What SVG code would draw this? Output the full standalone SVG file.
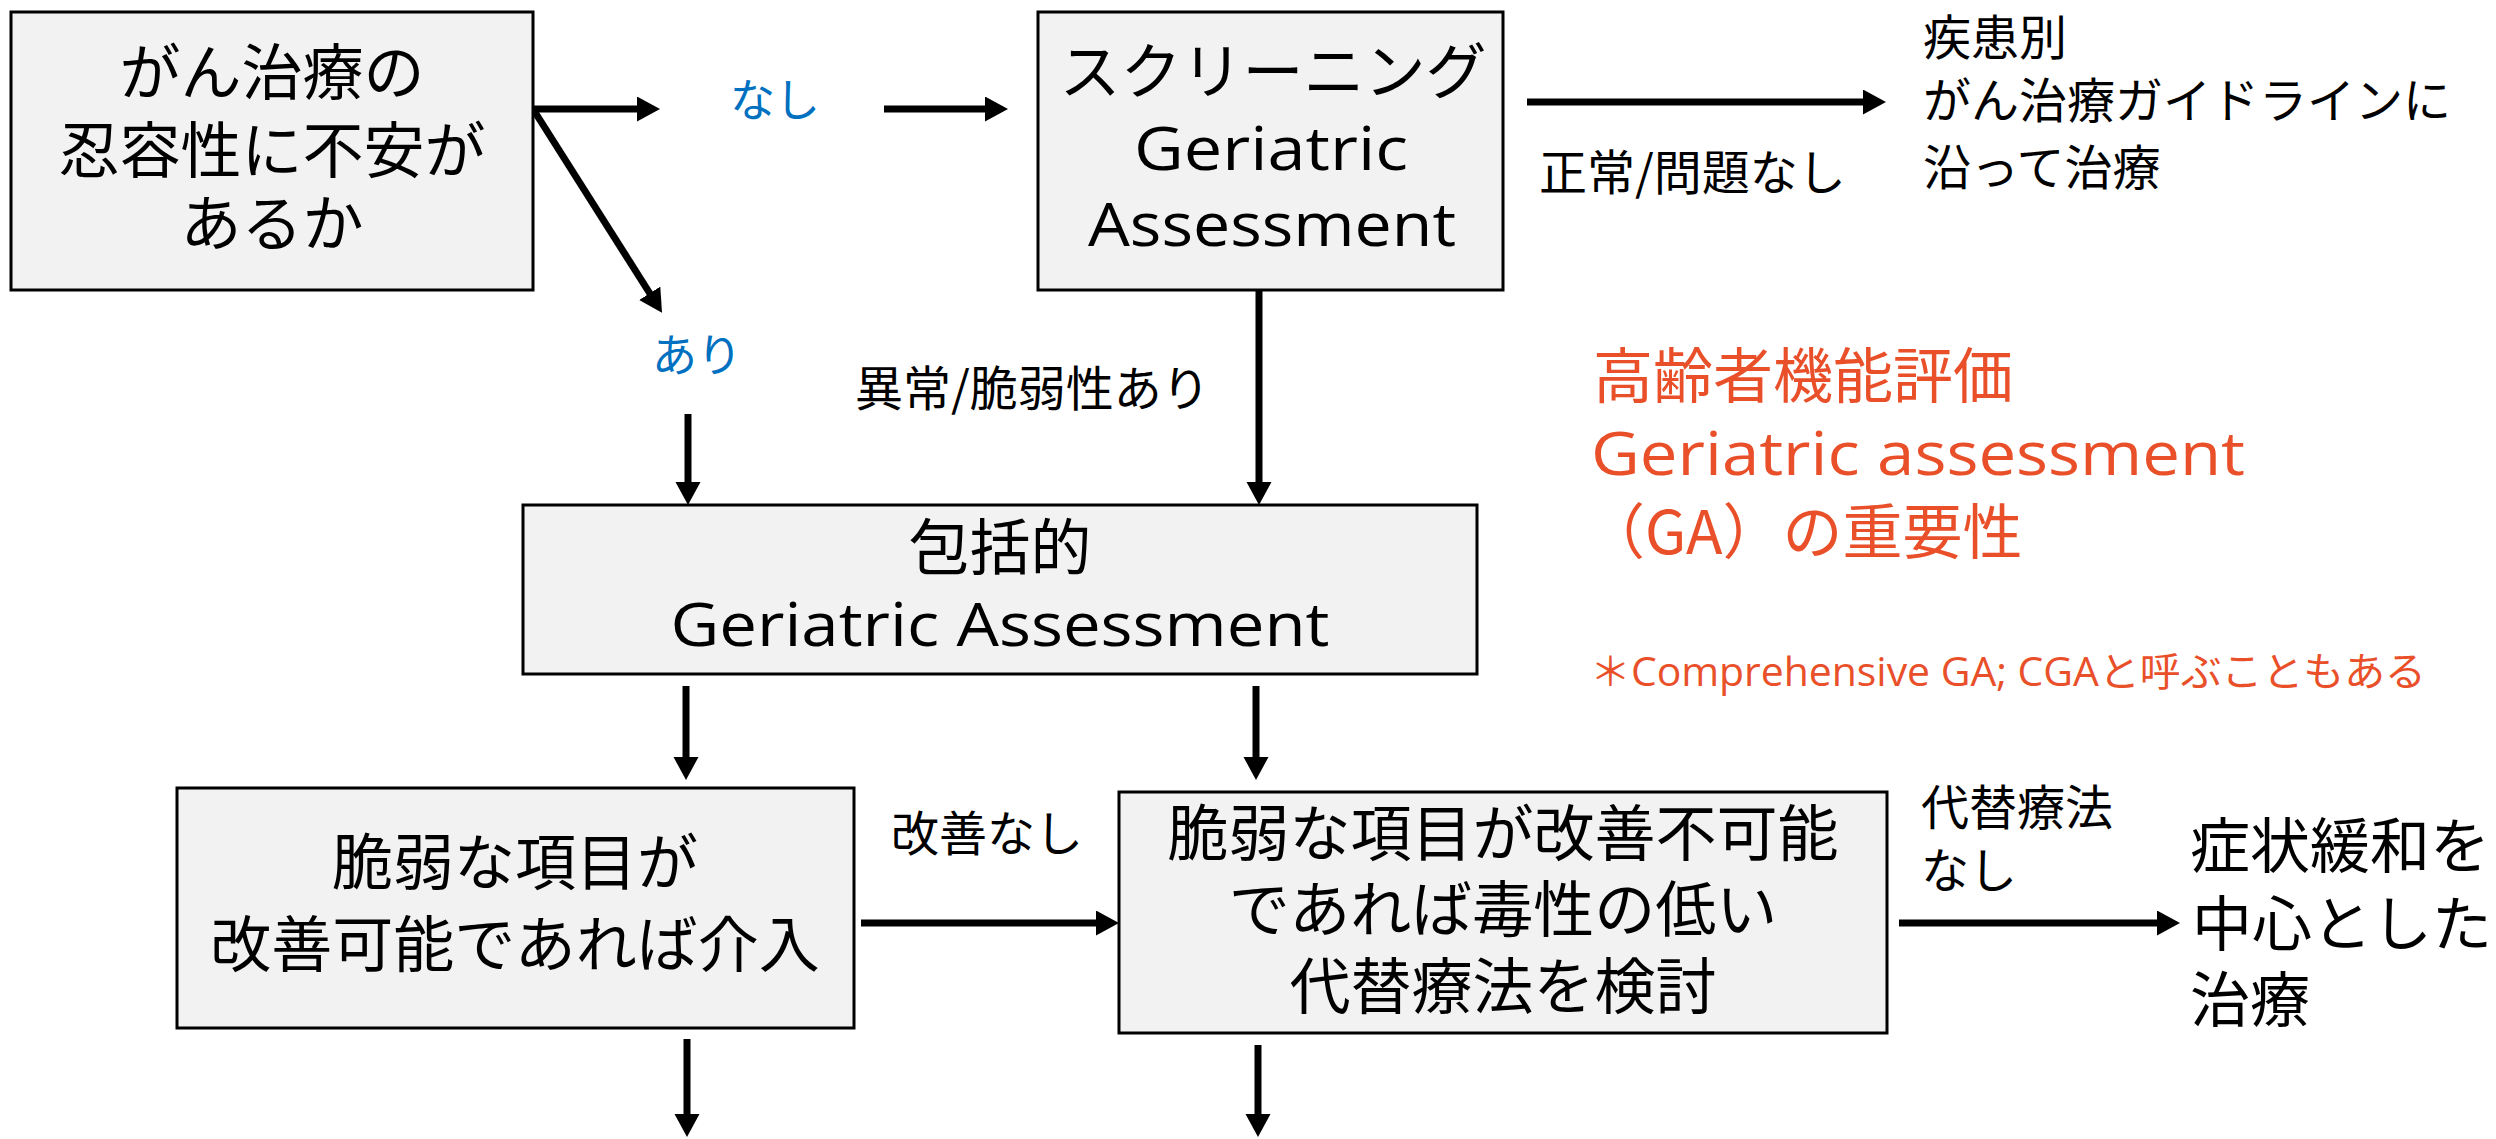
<svg xmlns="http://www.w3.org/2000/svg" width="2496" height="1139" viewBox="0 0 2496 1139">
<style>
.box{fill:#F2F2F2;stroke:#000;stroke-width:3}
text{font-family:"Noto Sans CJK JP","Noto Sans",sans-serif;fill:#000}
.lat{font-family:"Open Sans","Noto Sans CJK JP",sans-serif}
.b{font-size:61px;text-anchor:middle}
.m{font-size:48px}
.blue{font-size:45px;fill:#0070C0}
.red{font-size:60px;fill:#E9502A}
.note{font-size:40px;fill:#E9502A}
.big{font-size:60px}
.c line{stroke:#000;stroke-width:7;marker-end:url(#ah)}
</style>
<defs>
<marker id="ah" markerUnits="userSpaceOnUse" markerWidth="24" markerHeight="26" refX="8" refY="12.5" orient="auto">
<path d="M0,0 L23,12.5 L0,25 z" fill="#000"/>
</marker>
</defs>
<rect width="2496" height="1139" fill="#fff"/>

<g id="connectors" class="c">
<line x1="533" y1="109" x2="645" y2="109"/>
<line x1="884" y1="109" x2="993" y2="109"/>
<line x1="533" y1="109" x2="654" y2="300"/>
<line x1="688" y1="414" x2="688" y2="490"/>
<line x1="1259" y1="290" x2="1259" y2="490"/>
<line x1="1527" y1="102" x2="1871" y2="102"/>
<line x1="686" y1="686" x2="686" y2="765"/>
<line x1="1256" y1="686" x2="1256" y2="765"/>
<line x1="861" y1="923" x2="1104" y2="923"/>
<line x1="1899" y1="923" x2="2165" y2="923"/>
<line x1="687" y1="1039" x2="687" y2="1122"/>
<line x1="1258" y1="1045" x2="1258" y2="1122"/>
</g>

<g id="n-start">
<rect class="box" x="11" y="12" width="522" height="278"/>
<text class="b" x="272" y="95">がん治療の</text>
<text class="b" x="272" y="173">忍容性に不安が</text>
<text class="b" x="272" y="246">あるか</text>
</g>

<g id="l-nashi1"><text class="blue" x="730" y="117">なし</text></g>
<g id="l-ari"><text class="blue" x="652" y="372">あり</text></g>

<g id="n-screening">
<rect class="box" x="1038" y="12" width="465" height="278"/>
<text class="b" x="1273" y="94">スクリーニング</text>
<text class="b lat" x="1271" y="170" textLength="274" lengthAdjust="spacingAndGlyphs">Geriatric</text>
<text class="b lat" x="1272" y="246" textLength="368" lengthAdjust="spacingAndGlyphs">Assessment</text>
</g>

<g id="n-guideline">
<text class="m" x="1923" y="55">疾患別</text>
<text class="m" x="1923" y="118">がん治療ガイドラインに</text>
<text class="m" x="1923" y="185">沿って治療</text>
</g>
<g id="l-normal"><text class="m" x="1539" y="190">正常/問題なし</text></g>
<g id="l-abnormal"><text class="m" x="855" y="406">異常/脆弱性あり</text></g>

<g id="title">
<text class="red" x="1593" y="398">高齢者機能評価</text>
<text class="red lat" x="1591" y="475" textLength="654" lengthAdjust="spacingAndGlyphs">Geriatric assessment</text>
<text class="red" x="1585" y="554">（GA）の重要性</text>
<text class="note lat" x="1590" y="686" textLength="836" lengthAdjust="spacingAndGlyphs">＊Comprehensive GA; CGAと呼ぶこともある</text>
</g>

<g id="n-cga">
<rect class="box" x="523" y="505" width="954" height="169"/>
<text class="b" x="1000" y="570">包括的</text>
<text class="b lat" x="1000" y="646" textLength="659" lengthAdjust="spacingAndGlyphs">Geriatric Assessment</text>
</g>

<g id="n-intervene">
<rect class="box" x="177" y="788" width="677" height="240"/>
<text class="b" x="515" y="885">脆弱な項目が</text>
<text class="b" x="515" y="967">改善可能であれば介入</text>
</g>
<g id="l-kaizen"><text class="m" x="891" y="851">改善なし</text></g>

<g id="n-alternative">
<rect class="box" x="1119" y="792" width="768" height="241"/>
<text class="b" x="1503" y="856">脆弱な項目が改善不可能</text>
<text class="b" x="1503" y="932">であれば毒性の低い</text>
<text class="b" x="1503" y="1009">代替療法を検討</text>
</g>
<g id="l-noalt">
<text class="m" x="1921" y="825">代替療法</text>
<text class="m" x="1921" y="888">なし</text>
</g>

<g id="n-palliative">
<text class="big" x="2190" y="868">症状緩和を</text>
<text class="big" x="2192" y="946">中心とした</text>
<text class="big" x="2190" y="1022">治療</text>
</g>
</svg>
